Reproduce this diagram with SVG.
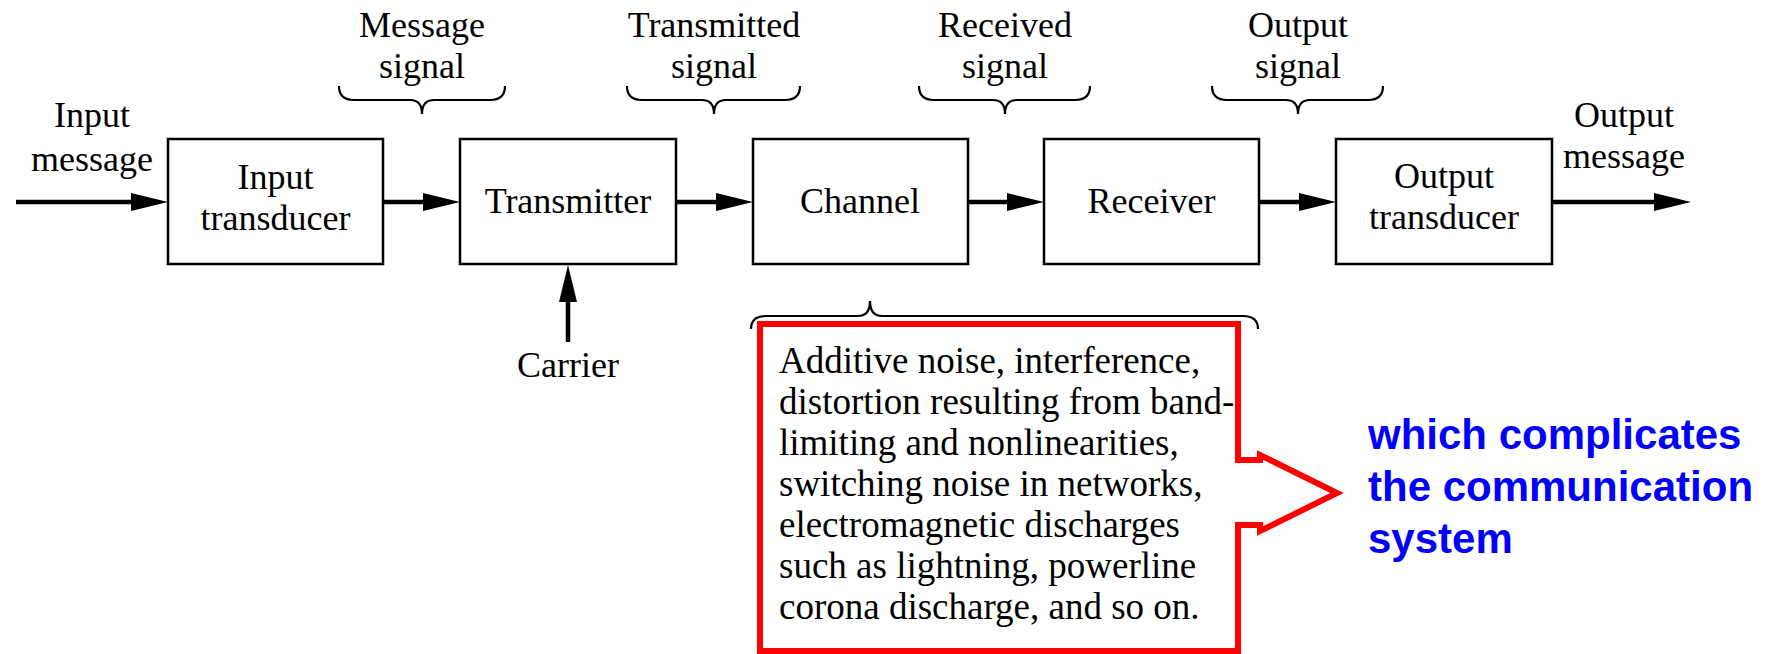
<svg xmlns="http://www.w3.org/2000/svg" width="1774" height="654" viewBox="0 0 1774 654">
<style>
.box{fill:#fff;stroke:#000;stroke-width:2.5}
.t{font-family:"Liberation Serif","Times New Roman",serif;font-size:36px;fill:#000;text-anchor:middle}
.tl{font-family:"Liberation Serif","Times New Roman",serif;font-size:37px;fill:#000}
.brace{fill:none;stroke:#000;stroke-width:2.2}
.conn{stroke:#000;stroke-width:4.5;fill:none}
.blue{font-family:"Liberation Sans",Arial,sans-serif;font-weight:bold;font-size:42px;fill:#0000ff}
</style>
<defs>
<marker id="ah" viewBox="0 0 37 18" refX="7" refY="9" markerWidth="37" markerHeight="18" markerUnits="userSpaceOnUse" orient="auto">
<path d="M0,0 L37,9 L0,18 Z" fill="#000"/>
</marker>
</defs>
<rect width="1774" height="654" fill="#fff"/>

<g id="connectors">
<line class="conn" x1="16" y1="202" x2="138" y2="202" marker-end="url(#ah)"/>
<line class="conn" x1="383" y1="202" x2="430" y2="202" marker-end="url(#ah)"/>
<line class="conn" x1="676" y1="202" x2="723" y2="202" marker-end="url(#ah)"/>
<line class="conn" x1="968" y1="202" x2="1014" y2="202" marker-end="url(#ah)"/>
<line class="conn" x1="1259" y1="202" x2="1306" y2="202" marker-end="url(#ah)"/>
<line class="conn" x1="1552" y1="202" x2="1661" y2="202" marker-end="url(#ah)"/>
<line class="conn" x1="568" y1="342" x2="568" y2="295" marker-end="url(#ah)"/>
</g>

<g id="input-message">
<text class="t" x="92" y="127">Input</text>
<text class="t" x="92" y="171">message</text>
</g>
<g id="input-transducer">
<rect class="box" x="168" y="139" width="215" height="125"/>
<text class="t" x="275.5" y="189">Input</text>
<text class="t" x="275.5" y="230">transducer</text>
</g>
<g id="transmitter">
<rect class="box" x="460" y="139" width="216" height="125"/>
<text class="t" x="568" y="213">Transmitter</text>
</g>
<g id="channel">
<rect class="box" x="753" y="139" width="215" height="125"/>
<text class="t" x="860" y="213">Channel</text>
</g>
<g id="receiver">
<rect class="box" x="1044" y="139" width="215" height="125"/>
<text class="t" x="1151.5" y="213">Receiver</text>
</g>
<g id="output-transducer">
<rect class="box" x="1336" y="139" width="216" height="125"/>
<text class="t" x="1444" y="188">Output</text>
<text class="t" x="1444" y="229">transducer</text>
</g>
<g id="output-message">
<text class="t" x="1624" y="127">Output</text>
<text class="t" x="1624" y="168">message</text>
</g>
<g id="carrier">
<text class="t" x="568" y="377">Carrier</text>
</g>

<g id="message-signal">
<text class="t" x="422" y="37">Message</text>
<text class="t" x="422" y="78">signal</text>
<path class="brace" d="M339,86 Q339,100 354,100 L410,100 Q422,100 422,114 Q422,100 434,100 L490,100 Q505,100 505,86"/>
</g>
<g id="transmitted-signal">
<text class="t" x="714" y="37">Transmitted</text>
<text class="t" x="714" y="78">signal</text>
<path class="brace" d="M627,86 Q627,100 642,100 L702,100 Q714,100 714,114 Q714,100 726,100 L785,100 Q800,100 800,86"/>
</g>
<g id="received-signal">
<text class="t" x="1005" y="37">Received</text>
<text class="t" x="1005" y="78">signal</text>
<path class="brace" d="M919,86 Q919,100 934,100 L993,100 Q1005,100 1005,114 Q1005,100 1017,100 L1075,100 Q1090,100 1090,86"/>
</g>
<g id="output-signal">
<text class="t" x="1298" y="37">Output</text>
<text class="t" x="1298" y="78">signal</text>
<path class="brace" d="M1212,86 Q1212,100 1227,100 L1286,100 Q1298,100 1298,114 Q1298,100 1310,100 L1368,100 Q1383,100 1383,86"/>
</g>

<g id="noise-brace">
<path class="brace" d="M751,329 Q751,316 766,316 L858,316 Q870,316 870,301 Q870,316 882,316 L1243,316 Q1258,316 1258,329"/>
</g>

<g id="noise-callout">
<path d="M1238,324 L760,324 L760,651 L1238,651 L1238,525 L1260,525 L1260,531 L1337,493 L1260,455 L1260,460 L1238,460 Z" fill="none" stroke="#ff0000" stroke-width="6" stroke-linejoin="miter"/>
<text class="tl" x="779" y="373">Additive noise, interference,</text>
<text class="tl" x="779" y="414">distortion resulting from band-</text>
<text class="tl" x="779" y="455">limiting and nonlinearities,</text>
<text class="tl" x="779" y="496">switching noise in networks,</text>
<text class="tl" x="779" y="537">electromagnetic discharges</text>
<text class="tl" x="779" y="578">such as lightning, powerline</text>
<text class="tl" x="779" y="619">corona discharge, and so on.</text>
</g>

<g id="complication-note">
<text class="blue" x="1368" y="449">which complicates</text>
<text class="blue" x="1368" y="501">the communication</text>
<text class="blue" x="1368" y="553">system</text>
</g>
</svg>
